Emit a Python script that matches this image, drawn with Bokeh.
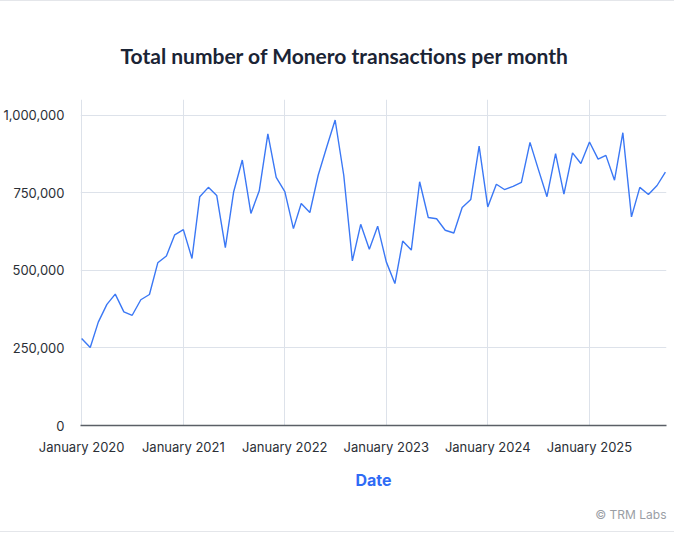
import pandas as pd
from bokeh.plotting import figure
from bokeh.models import FixedTicker, NumeralTickFormatter, DatetimeTickFormatter, Title, Range1d
from bokeh.embed import file_html
from bokeh.resources import INLINE

# --- data ---
start_month = "2020-01"
transactions = [
    280000, 251000, 333000, 390000, 423000, 366000, 355000, 405000, 422000, 524000, 546000, 614000,  # 2020
    631000, 538000, 737000, 767000, 741000, 573000, 753000, 855000, 683000, 756000, 939000, 799000,  # 2021
    753000, 634000, 715000, 686000, 806000, 898000, 984000, 806000, 530000, 648000, 568000, 642000,  # 2022
    527000, 457000, 594000, 565000, 785000, 670000, 666000, 629000, 620000, 702000, 728000, 900000,  # 2023
    704000, 777000, 760000, 770000, 783000, 912000, 825000, 737000, 876000, 745000, 878000, 844000,  # 2024
    913000, 858000, 870000, 790000, 943000, 672000, 767000, 744000, 773000, 816000,                  # 2025
]
months = pd.date_range(start=start_month, periods=len(transactions), freq="MS")
year_ticks = ["2020-01-01", "2021-01-01", "2022-01-01", "2023-01-01", "2024-01-01", "2025-01-01"]
y_ticks = [0, 250000, 500000, 750000, 1000000]
title_text = "Total number of Monero transactions per month"
credit_text = "© TRM Labs"

tick_ms = [pd.Timestamp(t).value // 10**6 for t in year_ticks]

p = figure(
    width=674, height=532,
    x_axis_type="datetime",
    output_backend="svg",
    toolbar_location=None,
    x_range=Range1d(months[0] - pd.Timedelta(days=4), months[-1] + pd.Timedelta(days=4)),
    y_range=Range1d(0, 1050000),
    min_border_left=8, min_border_right=8, min_border_top=98, min_border_bottom=8,
)
p.styles = {"border-top": "1px solid #e4e6ea", "border-bottom": "1px solid #e4e6ea"}

p.title.text = title_text
p.title.align = "left"
p.title.offset = 40
p.title.text_font = "Lato"
p.title.text_font_style = "bold"
p.title.text_font_size = "21px"
p.title.text_color = "#1b2435"
p.title.standoff = 64

p.line(months, transactions, line_color="#3b78f5", line_width=1.4)

p.outline_line_color = None

# x axis
p.xaxis.ticker = FixedTicker(ticks=tick_ms)
p.xaxis.formatter = DatetimeTickFormatter(months="%B %Y", years="%B %Y", days="%B %Y")
p.xaxis.axis_line_color = "#5a5f66"
p.xaxis.axis_line_width = 1.5
p.xaxis.major_tick_line_color = None
p.xaxis.minor_tick_line_color = None
p.xaxis.major_label_text_font = "Inter"
p.xaxis.major_label_text_font_size = "13px"
p.xaxis.major_label_text_color = "#2b2f36"
p.xaxis.major_label_standoff = 7
p.xaxis.axis_label = "Date"
p.xaxis.axis_label_text_font = "Inter"
p.xaxis.axis_label_text_font_style = "bold"
p.xaxis.axis_label_text_font_size = "16px"
p.xaxis.axis_label_text_color = "#2f6bf5"
p.xaxis.axis_label_standoff = 12

# y axis
p.yaxis.ticker = FixedTicker(ticks=y_ticks)
p.yaxis.formatter = NumeralTickFormatter(format="0,0")
p.yaxis.axis_line_color = None
p.yaxis.major_tick_line_color = None
p.yaxis.minor_tick_line_color = None
p.yaxis.major_label_text_font = "Inter"
p.yaxis.major_label_text_font_size = "13px"
p.yaxis.major_label_text_color = "#2b2f36"
p.yaxis.major_label_standoff = 10

# grids
p.xgrid.ticker = FixedTicker(ticks=tick_ms)
p.xgrid.grid_line_color = "#dde2ea"
p.xgrid.grid_line_width = 1
p.ygrid.ticker = FixedTicker(ticks=y_ticks)
p.ygrid.grid_line_color = "#dde2ea"
p.ygrid.grid_line_width = 1.2

credit = Title(text=credit_text, align="right", text_font="Inter", text_font_size="12px",
               text_font_style="normal", text_color="#9a9ea5", standoff=24)
p.add_layout(credit, "below")

open("out.html", "w").write(file_html(p, INLINE))
